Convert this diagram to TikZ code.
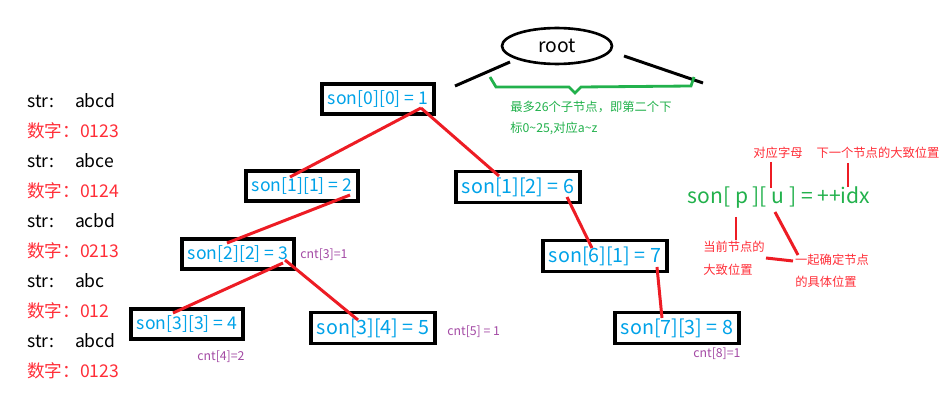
\documentclass[tikz,border=0pt]{standalone}
\usepackage{fontspec}
\setmainfont{Noto Sans CJK SC}
\usetikzlibrary{shapes.geometric}
\definecolor{sonblue}{RGB}{0,162,232}
\definecolor{linered}{RGB}{237,28,36}
\definecolor{notered}{RGB}{255,45,55}
\definecolor{bracegreen}{RGB}{34,177,76}
\definecolor{cntpurple}{RGB}{163,73,164}

\begin{document}
\begin{tikzpicture}[x=0.02cm,y=-0.02cm,
  box/.style={draw,line width=1.9pt,text=sonblue,font=\fontsize{10}{12}\selectfont,minimum height=0.6cm,inner xsep=3.3pt},
  bigbox/.style={box,font=\fontsize{11.2}{13}\selectfont},
  edge/.style={linered,line width=1.7pt},
  cnt/.style={cntpurple,font=\fontsize{7}{8}\selectfont,inner sep=0pt},
  note/.style={notered,font=\fontsize{7}{8}\selectfont,inner sep=0pt}]
\useasboundingbox (0,0) rectangle (948,402);
\node[ellipse,draw,line width=1.5pt,minimum width=2.2cm,minimum height=0.58cm,font=\fontsize{11}{13}\selectfont] (r) at (557,46) {root};
\coordinate (cl) at (455,86); \coordinate (cr) at (703,83);
\draw[line width=1.7pt] ([shift={(-47,16)}]r.center) -- (cl);
\draw[line width=1.7pt] ([shift={(67,10)}]r.center) -- (cr);
\draw[bracegreen,line width=1.6pt] (490,77) -- (496,87) -- (569,87) -- (575,93) -- (581,87) -- (691,86) -- (694,77);
\node[bracegreen,font=\fontsize{7}{8}\selectfont,anchor=west,inner sep=0pt] (g1) at (510,107) {最多26个子节点，即第二个下};
\node[bracegreen,font=\fontsize{7}{8}\selectfont,anchor=west,inner sep=0pt] (g2) at (510,128) {标0\textasciitilde25,对应a\textasciitilde z};

\node[box] (n1) at (378,99) {son[0][0] = 1};
\node[box] (n2) at (302,186) {son[1][1] = 2};
\node[bigbox] (n6) at (518,187) {son[1][2] = 6};
\node[box] (n3) at (238,254) {son[2][2] = 3};
\node[bigbox] (n7) at (605,256) {son[6][1] = 7};
\node[box] (n4) at (187,324) {son[3][3] = 4};
\node[bigbox] (n5) at (373,328) {son[3][4] = 5};
\node[bigbox] (n8) at (677,328) {son[7][3] = 8};
\draw[edge] ([shift={(43,9)}]n1.center) -- ([shift={(-12,-9)}]n2.center);
\draw[edge] ([shift={(43,9)}]n1.center) -- ([shift={(-19,-11)}]n6.center);
\draw[edge] ([shift={(48,9)}]n2.center) -- ([shift={(-11,-11)}]n3.center);
\draw[edge] ([shift={(45,9)}]n3.center) -- ([shift={(-14,-11)}]n4.center);
\draw[edge] ([shift={(47,6)}]n3.center) -- ([shift={(-15,-8)}]n5.center);
\draw[edge] ([shift={(49,10)}]n6.center) -- ([shift={(-13,-8)}]n7.center);
\draw[edge] ([shift={(52,11)}]n7.center) -- ([shift={(-15,-10)}]n8.center);

\node[cnt,anchor=west] (c3) at (300,255) {cnt[3]=1};
\node[cnt,anchor=west] (c4) at (197,357) {cnt[4]=2};
\node[cnt,anchor=west] (c5) at (447,332) {cnt[5] = 1};
\node[cnt,anchor=west] (c8) at (693,354) {cnt[8]=1};

\foreach \w/\dg [count=\i] in {abcd/0123,abce/0124,acbd/0213,abc/012,abcd/0123}{
  \node[anchor=west,inner sep=0pt] (s\i) at (27,{41+60*\i}) {str:\hspace{12pt}\w};
  \node[anchor=west,inner sep=0pt,notered] (d\i) at (27,{71+60*\i}) {数字：\dg};
}

\node[bracegreen,font=\fontsize{12}{14}\selectfont,inner sep=0pt] (f) at (779,198) {son[ p ][ u ] = ++idx};
\node[note] (a1) at (778,153) {对应字母};
\node[note] (a2) at (878,153) {下一个节点的大致位置};
\node[note] (a3) at (734,247) {当前节点的};
\node[note] (a4) at (728,270) {大致位置};
\node[note] (a5) at (832,260) {一起确定节点};
\node[note] (a6) at (826,282) {的具体位置};
\draw[edge] ([shift={(-7,9)}]a1.center) -- ([shift={(-8,-10)}]f.center);
\draw[edge] ([shift={(-30,10)}]a2.center) -- ([shift={(69,-11)}]f.center);
\draw[edge] ([shift={(-43,19)}]f.center) -- ([shift={(2,-7)}]a3.center);
\draw[edge] ([shift={(-4,14)}]f.center) -- ([shift={(-34,-5)}]a5.center);
\draw[edge] ([shift={(38,-12)}]a4.center) -- ([shift={(-39,1)}]a5.center);
\end{tikzpicture}
\end{document}
